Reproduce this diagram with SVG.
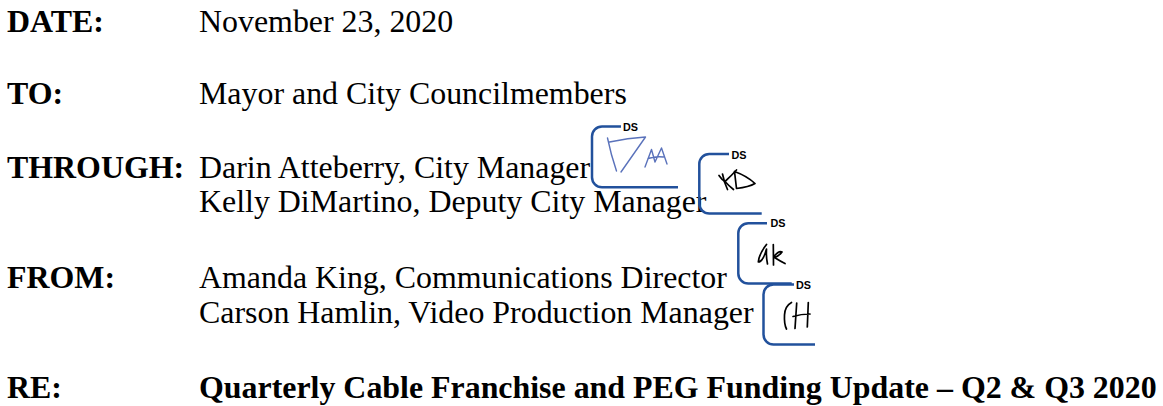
<svg xmlns="http://www.w3.org/2000/svg" width="1163" height="406" viewBox="0 0 1163 406">
<style>
.lbl{font-family:"Liberation Serif","Times New Roman",serif;font-weight:bold;font-size:31.9px;fill:#000}
.val{font-family:"Liberation Serif","Times New Roman",serif;font-size:31.9px;fill:#000}
.valb{font-family:"Liberation Serif","Times New Roman",serif;font-weight:bold;font-size:31.9px;fill:#000}
.box{fill:none;stroke:#22519c;stroke-width:2.5;stroke-linecap:butt}
.ds{font-family:"Liberation Sans",Arial,sans-serif;font-weight:bold;font-size:10.8px;fill:#000}
.sigb{fill:none;stroke:#5a72bb;stroke-width:1.4;stroke-linecap:round;stroke-linejoin:round}
.sigk{fill:none;stroke:#000;stroke-width:1.7;stroke-linecap:round;stroke-linejoin:round}
</style>
<rect width="1163" height="406" fill="#fff"/>
<g id="date">
<text class="lbl" x="7" y="32">DATE:</text>
<text class="val" x="199" y="32">November 23, 2020</text>
</g>
<g id="to">
<text class="lbl" x="7" y="104">TO:</text>
<text class="val" x="199" y="104">Mayor and City Councilmembers</text>
</g>
<g id="through">
<text class="lbl" x="7" y="177.5">THROUGH:</text>
<text class="val" x="199" y="177.5">Darin Atteberry, City Manager</text>
<text class="val" x="199" y="212">Kelly DiMartino, Deputy City Manager</text>
</g>
<g id="from">
<text class="lbl" x="7" y="288">FROM:</text>
<text class="val" x="199" y="288">Amanda King, Communications Director</text>
<text class="val" x="199" y="323">Carson Hamlin, Video Production Manager</text>
</g>
<g id="re">
<text class="lbl" x="7" y="398">RE:</text>
<text class="valb" x="199" y="398">Quarterly Cable Franchise and PEG Funding Update – Q2 &amp; Q3 2020</text>
</g>
<g id="sig-darin">
<path class="box" d="M621,126.5 H602 A10,10 0 0 0 592,136.5 V177.3 A10,10 0 0 0 602,187.3 H678"/>
<text class="ds" x="623" y="131">DS</text>
<path class="sigb" d="M607.5,138 Q611,155 616.5,171"/>
<path class="sigb" d="M609.5,142 Q628,138 645.5,137 L621,172"/>
<path class="sigb" d="M645,167 L651.5,149.5 L655,162 L661.5,148 L667,164 M648,158.5 Q656,156 663.5,157"/>
</g>
<g id="sig-kelly">
<path class="box" d="M729,154 H709.3 A10,10 0 0 0 699.3,164 V203.5 A10,10 0 0 0 709.3,213.5 H761.7"/>
<text class="ds" x="731.5" y="158.5">DS</text>
<path class="sigk" d="M722.5,174 Q724,182 727.5,189.5"/>
<path class="sigk" d="M719,175.5 Q722,180 725,181.5 Q731,176 736.5,170 M725,181.5 Q729,186 733.5,189.5"/>
<path class="sigk" d="M734.5,171.5 Q735.5,180 736.5,188.5 Q749,187 755,183.5 Q747,176 734.5,171.5"/>
</g>
<g id="sig-amanda">
<path class="box" d="M767,223.3 H748.3 A10,10 0 0 0 738.3,233.3 V273.5 A10,10 0 0 0 748.3,283.5 H791.7"/>
<text class="ds" x="770.5" y="227">DS</text>
<path class="sigk" d="M766.5,244.5 Q759,254 758.3,262 Q763,262 766.5,249 Q766,257 767.5,264"/>
<path class="sigk" d="M773.3,244.5 L773.5,265 M773.5,257 Q779,250 782,252 Q779,256 774.5,257.5 Q780,261 785,263.5"/>
</g>
<g id="sig-carson">
<path class="box" d="M794,284.5 H773.5 A10,10 0 0 0 763.5,294.5 V334.5 A10,10 0 0 0 773.5,344.5 H815"/>
<text class="ds" x="796" y="288.5">DS</text>
<path class="sigk" d="M791.5,302.5 Q785,306 784.5,315 Q784,324 786.5,329"/>
<path class="sigk" d="M796.7,303 L795,328.5 M808.3,302.5 L807.3,327 M793,316.5 Q801,314 810,314"/>
</g>
<g id="connectors"></g>
</svg>
